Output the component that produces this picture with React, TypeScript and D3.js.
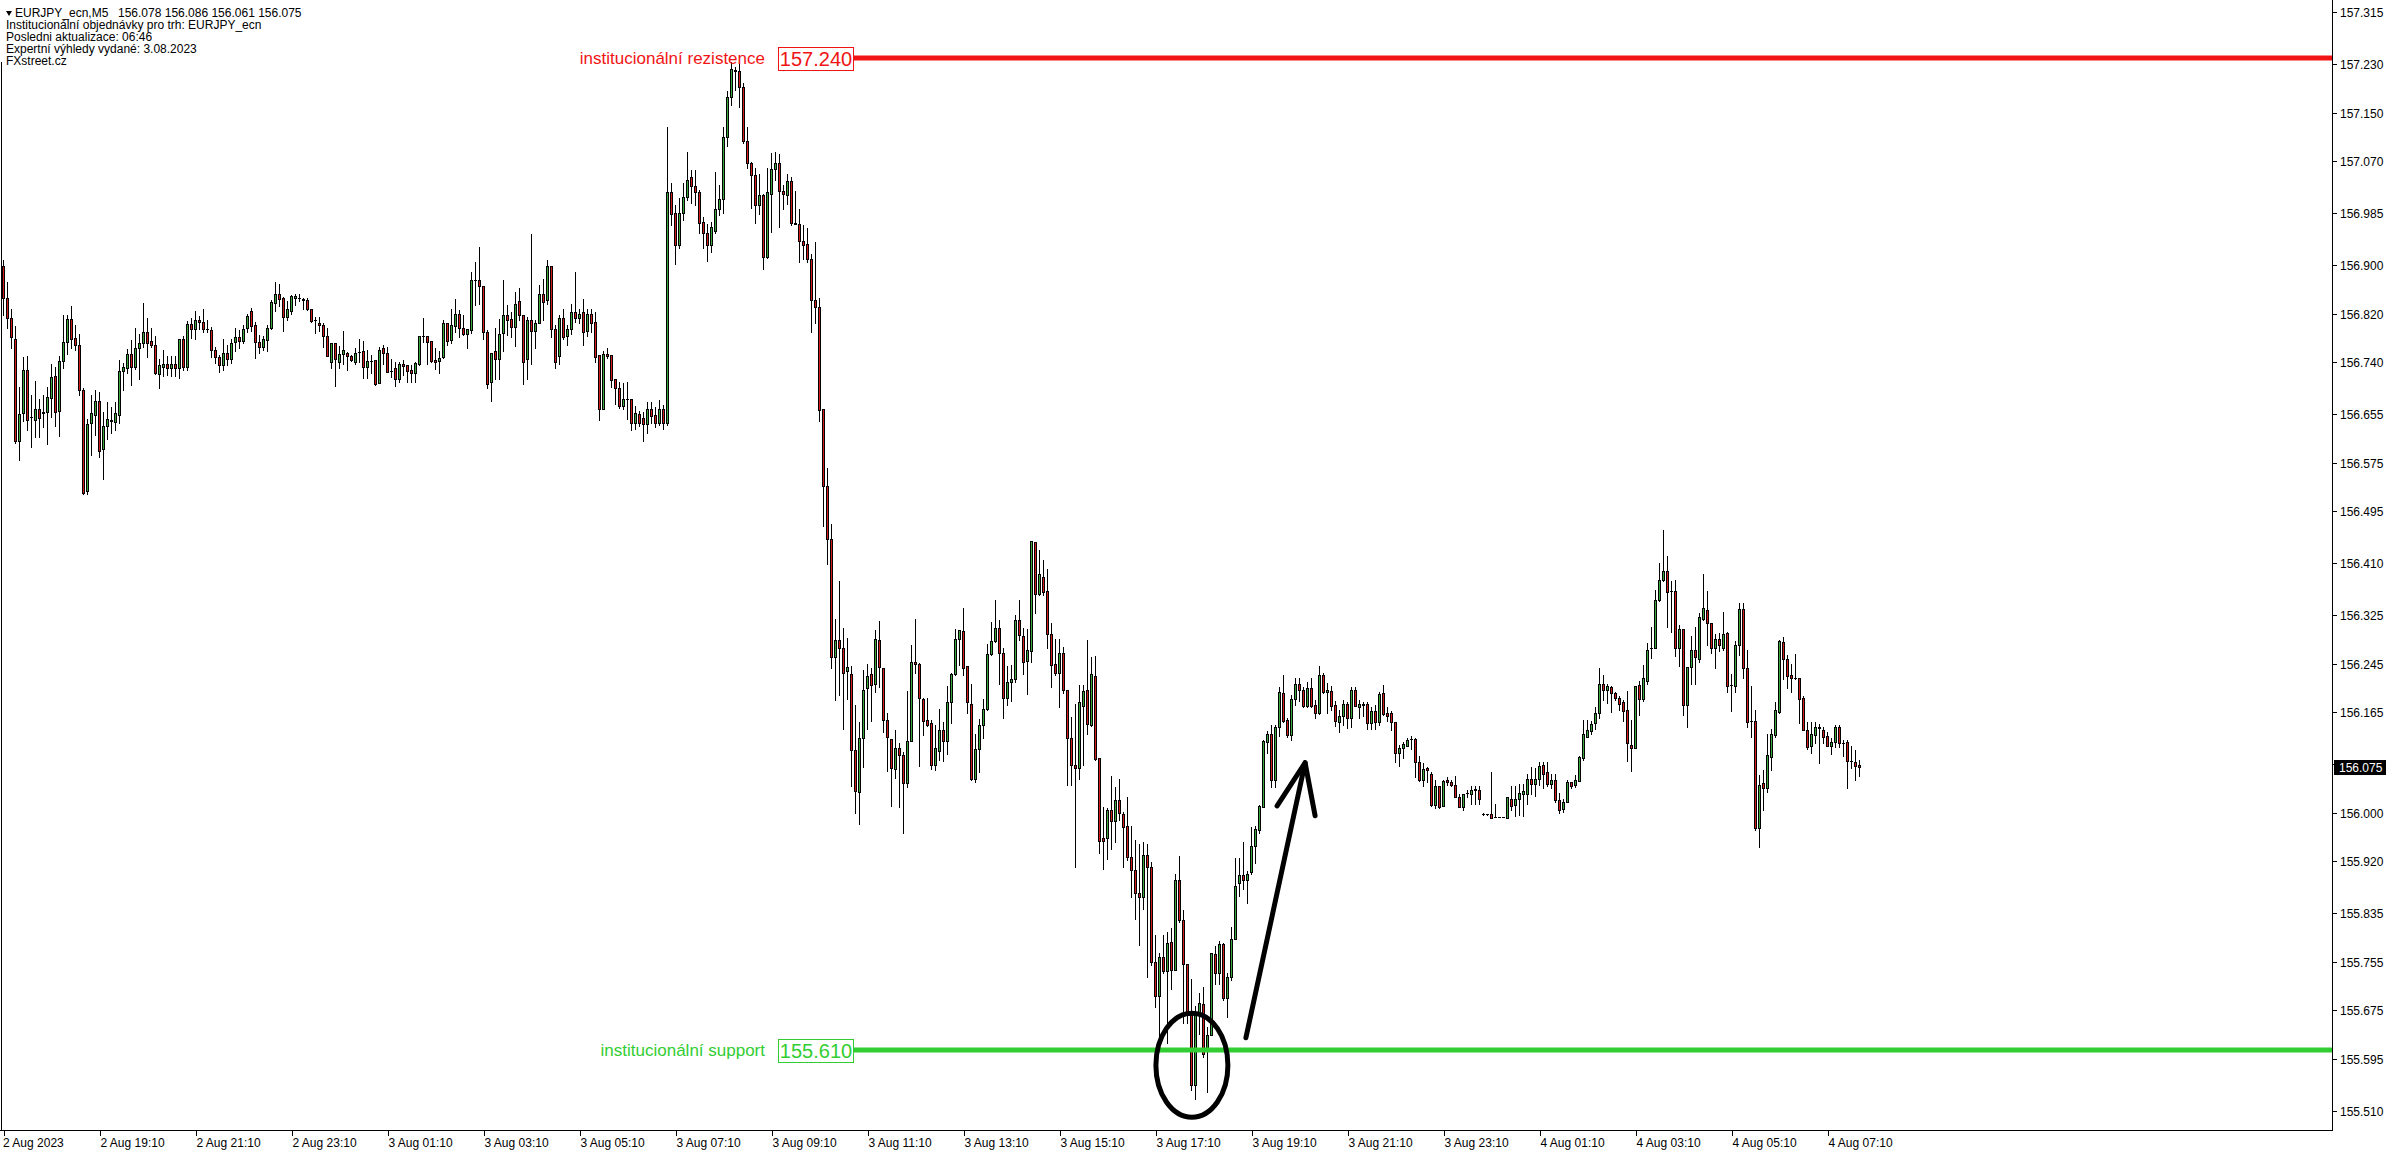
import React from "react";
import * as d3 from "d3";

// ---- OHLC data (EURJPY M5), one entry per 5-minute bar, oldest first ----
const openP = [
156.898,156.846,156.813,156.779,156.610,156.657,156.728,156.650,156.646,156.664,
156.657,156.658,156.682,156.717,156.660,156.742,156.774,156.811,156.780,156.769,
156.694,156.528,156.640,156.654,156.676,156.597,156.635,156.643,156.642,156.654,
156.725,156.731,156.754,156.732,156.764,156.772,156.790,156.775,156.769,156.721,
156.732,156.738,156.731,156.738,156.731,156.779,156.732,156.803,156.794,156.810,
156.807,156.794,156.793,156.760,156.749,156.736,156.755,156.746,156.773,156.782,
156.775,156.796,156.824,156.802,156.774,156.765,156.777,156.797,156.838,156.852,
156.846,156.815,156.824,156.846,156.846,156.844,156.843,156.827,156.809,156.805,
156.802,156.783,156.741,156.771,156.741,156.754,156.756,156.750,156.741,156.757,
156.758,156.732,156.742,156.743,156.706,156.764,156.756,156.725,156.730,156.713,
156.738,156.736,156.727,156.723,156.737,156.783,156.784,156.775,156.744,156.742,
156.748,156.805,156.777,156.800,156.820,156.797,156.786,156.793,156.876,156.876,
156.866,156.789,156.708,156.758,156.745,156.788,156.817,156.811,156.798,156.840,
156.818,156.745,156.809,156.792,156.805,156.853,156.842,156.898,156.795,156.751,
156.813,156.784,156.795,156.823,156.812,156.823,156.791,156.820,156.807,156.752,
156.664,156.754,156.752,156.713,156.697,156.668,156.679,156.679,156.641,156.655,
156.649,156.639,156.664,156.653,156.641,156.664,156.641,157.019,156.985,156.933,
156.985,157.011,157.044,157.030,157.019,156.971,156.952,156.933,156.956,156.992,
157.009,157.111,157.176,157.220,157.219,157.193,157.103,157.067,157.048,156.998,
157.015,156.913,157.017,157.057,157.067,157.021,157.015,157.038,156.969,156.968,
156.939,156.935,156.910,156.843,156.831,156.663,156.537,156.449,156.255,156.283,
156.271,156.232,156.228,156.103,156.034,156.122,156.204,156.228,156.211,156.283,
156.237,156.153,156.121,156.071,156.107,156.095,156.048,156.118,156.248,156.245,
156.186,156.152,156.147,156.079,156.102,156.136,156.118,156.181,156.228,156.285,
156.298,156.241,156.179,156.056,156.104,156.144,156.170,156.260,156.282,156.304,
156.262,156.188,156.214,156.219,156.316,156.290,156.249,156.266,156.445,156.359,
156.388,156.364,156.293,156.245,156.230,156.263,156.202,156.122,156.079,156.074,
156.176,156.201,156.144,156.224,156.090,155.959,155.958,156.004,155.987,156.021,
155.998,155.978,155.927,155.906,155.868,155.862,155.931,155.911,155.754,155.699,
155.762,155.739,155.788,155.742,155.889,155.823,155.752,155.667,155.553,155.668,
155.686,155.610,155.634,155.767,155.737,155.784,155.696,155.730,155.793,155.885,
155.898,155.889,155.902,155.946,155.971,156.010,156.116,156.130,156.053,156.140,
156.197,156.153,156.127,156.186,156.212,156.202,156.176,156.204,156.177,156.163,
156.226,156.198,156.200,156.177,156.149,156.158,156.178,156.155,156.202,156.174,
156.179,156.179,156.147,156.167,156.149,156.196,156.163,156.163,156.149,156.098,
156.107,156.110,156.121,156.121,156.083,156.053,156.073,156.064,156.013,156.044,
156.011,156.053,156.051,156.046,156.026,156.010,156.032,156.030,156.038,156.038,
155.998,155.997,155.997,155.993,155.993,155.993,155.992,156.023,156.012,156.022,
156.030,156.031,156.055,156.047,156.056,156.078,156.066,156.047,156.053,156.021,
156.006,156.018,156.050,156.046,156.052,156.090,156.125,156.134,156.147,156.163,
156.212,156.201,156.207,156.197,156.189,156.181,156.168,156.111,156.106,156.210,
156.186,156.217,156.271,156.271,156.350,156.382,156.397,156.364,156.364,156.271,
156.301,156.177,156.240,156.268,156.253,156.318,156.333,156.312,156.271,156.285,
156.271,156.295,156.209,156.208,156.276,156.334,156.237,156.151,156.151,155.975,
156.048,156.041,156.092,156.127,156.166,156.281,156.252,156.226,156.222,156.222,
156.189,156.135,156.110,156.128,156.140,156.136,156.126,156.110,156.116,156.141,
156.115,156.116,156.085,156.084,156.078];

const highP = [
156.908,156.872,156.828,156.799,156.700,156.748,156.750,156.687,156.710,156.680,
156.687,156.700,156.737,156.732,156.750,156.817,156.817,156.832,156.802,156.787,
156.697,156.647,156.686,156.694,156.691,156.658,156.675,156.666,156.675,156.744,
156.739,156.762,156.777,156.797,156.787,156.838,156.812,156.797,156.784,156.746,
156.761,156.751,156.750,156.751,156.779,156.784,156.808,156.812,156.825,156.816,
156.828,156.809,156.798,156.765,156.752,156.778,156.768,156.779,156.796,156.793,
156.802,156.819,156.830,156.806,156.785,156.784,156.802,156.842,156.872,156.868,
156.847,156.840,156.850,156.853,156.853,156.846,156.846,156.828,156.815,156.815,
156.805,156.797,156.771,156.772,156.766,156.791,156.757,156.752,156.764,156.778,
156.775,156.760,156.752,156.744,156.765,156.768,156.765,156.746,156.741,156.741,
156.743,156.736,156.735,156.741,156.784,156.812,156.784,156.775,156.763,156.758,
156.809,156.805,156.828,156.844,156.826,156.817,156.794,156.889,156.905,156.929,
156.866,156.793,156.756,156.796,156.811,156.875,156.834,156.823,156.855,156.862,
156.818,156.815,156.950,156.810,156.867,156.877,156.908,156.898,156.802,156.817,
156.828,156.802,156.835,156.888,156.828,156.844,156.827,156.827,156.822,156.752,
156.759,156.764,156.752,156.713,156.708,156.706,156.707,156.679,156.669,156.660,
156.659,156.674,156.674,156.666,156.678,156.670,157.127,157.035,156.999,157.010,
157.035,157.086,157.056,157.056,157.023,156.979,156.967,156.971,157.053,157.031,
157.127,157.186,157.233,157.226,157.232,157.199,157.126,157.069,157.060,157.050,
157.017,157.059,157.084,157.086,157.082,157.032,157.050,157.044,157.021,156.992,
156.965,156.960,156.918,156.938,156.846,156.663,156.567,156.474,156.319,156.380,
156.304,156.287,156.241,156.177,156.149,156.234,156.244,156.237,156.300,156.315,
156.237,156.164,156.121,156.136,156.114,156.100,156.200,156.276,156.318,156.246,
156.188,156.188,156.153,156.144,156.170,156.149,156.208,156.230,156.301,156.300,
156.337,156.241,156.212,156.130,156.154,156.186,156.277,156.314,156.349,156.316,
156.270,156.241,156.242,156.324,156.349,156.303,156.301,156.447,156.445,156.431,
156.415,156.401,156.312,156.286,156.286,156.273,156.202,156.157,156.179,156.209,
156.209,156.283,156.255,156.257,156.090,156.010,156.007,156.061,156.042,156.056,
156.001,156.026,155.978,155.955,155.949,155.952,155.949,155.919,155.799,155.769,
155.799,155.804,155.810,155.900,155.929,155.840,155.752,155.726,155.682,155.703,
155.714,155.648,155.769,155.781,155.789,155.785,155.736,155.812,155.926,155.926,
155.951,155.904,155.977,155.978,156.012,156.119,156.134,156.144,156.144,156.206,
156.226,156.155,156.193,156.221,156.221,156.207,156.215,156.221,156.185,156.241,
156.229,156.213,156.208,156.183,156.169,156.185,156.182,156.207,156.207,156.185,
156.182,156.182,156.174,156.177,156.199,156.210,156.174,156.167,156.149,156.111,
156.116,156.122,156.126,156.122,156.093,156.081,156.075,156.067,156.053,156.044,
156.053,156.059,156.053,156.060,156.031,156.031,156.037,156.044,156.043,156.043,
155.999,155.998,156.066,156.014,155.993,155.993,156.025,156.043,156.043,156.047,
156.047,156.063,156.075,156.073,156.083,156.084,156.083,156.064,156.064,156.032,
156.022,156.054,156.051,156.062,156.093,156.152,156.152,156.151,156.174,156.237,
156.227,156.212,156.208,156.199,156.191,156.185,156.200,156.152,156.208,156.217,
156.242,156.278,156.305,156.366,156.411,156.464,156.422,156.381,156.382,156.308,
156.301,156.240,156.290,156.305,156.328,156.392,156.364,156.312,156.294,156.296,
156.329,156.297,156.228,156.282,156.344,156.345,156.267,156.208,156.169,156.062,
156.070,156.129,156.138,156.181,156.283,156.288,156.259,156.245,156.260,156.222,
156.191,156.149,156.149,156.149,156.145,156.141,156.133,156.123,156.144,156.144,
156.119,156.120,156.110,156.103,156.086];

const lowP = [
156.817,156.797,156.764,156.607,156.580,156.643,156.628,156.601,156.617,156.618,
156.634,156.605,156.650,156.636,156.619,156.731,156.754,156.764,156.760,156.687,
156.523,156.524,156.587,156.620,156.585,156.548,156.614,156.624,156.629,156.641,
156.694,156.722,156.702,156.729,156.713,156.765,156.748,156.765,156.720,156.698,
156.717,156.719,156.717,156.717,156.715,156.727,156.727,156.780,156.779,156.794,
156.790,156.790,156.749,156.739,156.724,156.727,156.736,156.739,156.758,156.764,
156.772,156.790,156.791,156.747,156.755,156.760,156.759,156.795,156.824,156.833,
156.792,156.810,156.819,156.834,156.840,156.828,156.826,156.807,156.788,156.791,
156.765,156.750,156.731,156.701,156.731,156.738,156.727,156.742,156.737,156.741,
156.714,156.714,156.722,156.702,156.706,156.738,156.724,156.716,156.701,156.708,
156.719,156.708,156.708,156.708,156.735,156.774,156.738,156.741,156.729,156.723,
156.747,156.768,156.771,156.790,156.782,156.785,156.763,156.788,156.834,156.835,
156.779,156.698,156.677,156.713,156.712,156.758,156.785,156.782,156.767,156.809,
156.704,156.713,156.737,156.763,156.804,156.809,156.835,156.782,156.731,156.737,
156.779,156.768,156.786,156.806,156.804,156.768,156.783,156.790,156.741,156.646,
156.663,156.747,156.700,156.672,156.665,156.664,156.647,156.629,156.631,156.635,
156.610,156.624,156.641,156.633,156.637,156.631,156.637,156.965,156.902,156.927,
156.974,157.006,157.002,156.998,156.952,156.927,156.906,156.921,156.952,156.982,
156.985,157.095,157.163,157.188,157.159,157.101,157.059,156.994,156.969,156.984,
156.893,156.911,156.954,157.040,156.963,156.992,157.000,156.965,156.967,156.904,
156.910,156.904,156.790,156.804,156.643,156.471,156.409,156.238,156.185,156.194,
156.138,156.187,156.044,156.000,155.981,156.075,156.137,156.151,156.199,156.206,
156.133,156.069,156.011,156.057,156.009,155.967,156.042,156.117,156.230,156.076,
156.127,156.143,156.071,156.070,156.086,156.085,156.097,156.148,156.226,156.242,
156.226,156.163,156.053,156.051,156.067,156.122,156.169,156.259,156.280,156.211,
156.156,156.177,156.184,156.214,156.283,156.228,156.195,156.248,156.328,156.357,
156.357,156.271,156.207,156.226,156.174,156.196,156.045,156.045,155.910,156.056,
156.078,156.130,156.142,156.086,155.933,155.908,155.924,155.941,155.952,155.988,
155.910,155.922,155.862,155.826,155.782,155.841,155.730,155.749,155.681,155.629,
155.736,155.621,155.711,155.741,155.821,155.654,155.654,155.544,155.530,155.637,
155.598,155.541,155.634,155.718,155.718,155.692,155.665,155.725,155.792,155.863,
155.874,155.852,155.900,155.918,155.967,156.009,156.098,156.042,156.042,156.126,
156.149,156.124,156.120,156.177,156.184,156.174,156.174,156.174,156.156,156.162,
156.196,156.163,156.169,156.142,156.133,156.144,156.139,156.140,156.175,156.155,
156.158,156.138,156.138,156.138,156.144,156.160,156.151,156.136,156.084,156.077,
156.089,156.109,156.105,156.059,156.052,156.044,156.051,156.011,156.007,156.007,
156.011,156.045,156.043,156.025,156.010,156.005,156.026,156.015,156.015,156.015,
155.996,155.996,155.992,155.993,155.993,155.993,155.992,156.004,155.994,155.996,
155.994,156.014,156.030,156.028,156.045,156.041,156.043,156.040,156.018,156.000,
156.001,156.017,156.041,156.042,156.052,156.087,156.125,156.130,156.138,156.155,
156.185,156.180,156.166,156.185,156.168,156.151,156.085,156.069,156.106,156.161,
156.183,156.212,156.254,156.271,156.348,156.381,156.305,156.297,156.258,156.241,
156.160,156.140,156.212,156.211,156.248,156.316,156.275,156.263,156.238,156.266,
156.267,156.199,156.167,156.199,156.259,156.222,156.141,156.125,155.972,155.944,
156.004,156.034,156.070,156.125,156.164,156.220,156.205,156.199,156.219,156.148,
156.135,156.104,156.098,156.115,156.081,156.115,156.110,156.096,156.108,156.108,
156.093,156.040,156.074,156.053,156.061];

const closeP = [
156.845,156.812,156.782,156.610,156.655,156.728,156.646,156.650,156.664,156.649,
156.659,156.683,156.716,156.658,156.742,156.774,156.811,156.779,156.769,156.695,
156.526,156.639,156.657,156.676,156.595,156.636,156.647,156.645,156.656,156.725,
156.732,156.754,156.732,156.764,156.772,156.790,156.772,156.769,156.722,156.735,
156.738,156.731,156.738,156.731,156.779,156.732,156.803,156.794,156.810,156.806,
156.794,156.794,156.760,156.748,156.736,156.755,156.746,156.772,156.782,156.775,
156.794,156.816,156.800,156.773,156.765,156.778,156.797,156.839,156.852,156.844,
156.815,156.828,156.849,156.849,156.845,156.843,156.827,156.808,156.809,156.801,
156.783,156.750,156.771,156.746,156.754,156.760,156.750,156.743,156.756,156.757,
156.732,156.742,156.742,156.704,156.761,156.756,156.724,156.725,156.713,156.738,
156.734,156.726,156.723,156.739,156.783,156.783,156.774,156.742,156.741,156.747,
156.804,156.775,156.802,156.820,156.797,156.787,156.794,156.875,156.876,156.866,
156.789,156.705,156.756,156.746,156.787,156.817,156.810,156.798,156.835,156.818,
156.741,156.809,156.792,156.805,156.853,156.839,156.898,156.795,156.741,156.812,
156.782,156.795,156.822,156.812,156.820,156.790,156.819,156.805,156.748,156.664,
156.754,156.751,156.711,156.698,156.668,156.679,156.679,156.641,156.656,156.640,
156.639,156.664,156.652,156.641,156.663,156.641,157.019,156.984,156.933,156.985,
157.011,157.040,157.030,157.019,156.969,156.952,156.933,156.963,156.992,157.009,
157.111,157.176,157.222,157.219,157.193,157.103,157.067,157.048,156.998,157.015,
156.913,157.019,157.057,157.067,157.021,157.017,157.038,156.969,156.968,156.939,
156.933,156.910,156.842,156.831,156.662,156.537,156.449,156.255,156.283,156.271,
156.230,156.240,156.103,156.036,156.122,156.201,156.224,156.210,156.286,156.239,
156.153,156.125,156.074,156.107,156.094,156.048,156.118,156.248,156.244,156.188,
156.151,156.144,156.079,156.106,156.136,156.118,156.181,156.228,156.286,156.300,
156.238,156.182,156.056,156.104,156.144,156.170,156.260,156.282,156.304,156.263,
156.188,156.214,156.219,156.316,156.292,156.248,156.267,156.447,156.359,156.392,
156.363,156.294,156.243,156.230,156.263,156.202,156.122,156.079,156.074,156.181,
156.200,156.145,156.228,156.088,155.954,155.954,156.004,155.987,156.021,155.999,
155.977,155.927,155.906,155.868,155.862,155.931,155.911,155.754,155.699,155.762,
155.739,155.786,155.742,155.890,155.823,155.752,155.670,155.553,155.668,155.688,
155.604,155.635,155.769,155.737,155.784,155.696,155.730,155.793,155.880,155.898,
155.889,155.900,155.946,155.973,156.011,156.117,156.130,156.053,156.140,156.198,
156.151,156.127,156.186,156.212,156.202,156.176,156.204,156.176,156.163,156.226,
156.198,156.202,156.176,156.151,156.159,156.178,156.155,156.202,156.176,156.179,
156.177,156.147,156.167,156.149,156.195,156.162,156.159,156.149,156.098,156.107,
156.112,156.120,156.121,156.083,156.053,156.071,156.070,156.013,156.044,156.010,
156.052,156.051,156.046,156.026,156.010,156.030,156.033,156.038,156.039,156.022,
155.997,155.997,155.992,155.993,155.993,155.993,156.025,156.011,156.022,156.033,
156.035,156.056,156.047,156.056,156.076,156.064,156.047,156.053,156.020,156.005,
156.017,156.050,156.044,156.053,156.092,156.130,156.136,156.145,156.163,156.212,
156.202,156.208,156.196,156.189,156.179,156.167,156.114,156.106,156.208,156.186,
156.221,156.268,156.271,156.350,156.383,156.397,156.363,156.364,156.271,156.301,
156.177,156.239,156.268,156.255,156.321,156.336,156.312,156.270,156.286,156.276,
156.293,156.208,156.209,156.276,156.334,156.237,156.149,156.151,155.974,156.046,
156.041,156.095,156.129,156.169,156.282,156.252,156.225,156.222,156.221,156.186,
156.136,156.108,156.129,156.141,156.139,156.125,156.110,156.116,156.141,156.115,
156.115,156.085,156.085,156.077,156.075];

// ---- axes ----
const priceTicks = [157.315, 157.230, 157.150, 157.070, 156.985, 156.900, 156.820, 156.740,
  156.655, 156.575, 156.495, 156.410, 156.325, 156.245, 156.165, 156.080, 156.000,
  155.920, 155.835, 155.755, 155.675, 155.595, 155.510];
const timeTickIndex = [0, 24, 48, 72, 96, 120, 144, 168, 192, 216, 240, 264, 288, 312, 336, 360, 384, 408, 432, 456];
const timeTickLabel = ["2 Aug 2023", "2 Aug 19:10", "2 Aug 21:10", "2 Aug 23:10", "3 Aug 01:10",
  "3 Aug 03:10", "3 Aug 05:10", "3 Aug 07:10", "3 Aug 09:10", "3 Aug 11:10", "3 Aug 13:10",
  "3 Aug 15:10", "3 Aug 17:10", "3 Aug 19:10", "3 Aug 21:10", "3 Aug 23:10", "4 Aug 01:10",
  "4 Aug 03:10", "4 Aug 05:10", "4 Aug 07:10"];

const headerSymbol = "EURJPY_ecn,M5";
const headerQuote = "156.078 156.086 156.061 156.075";
const headerLines = [
  "Institucionální objednávky pro trh: EURJPY_ecn",
  "Posledni aktualizace: 06:46",
  "Expertní výhledy vydané: 3.08.2023",
  "FXstreet.cz",
];

const levelValues = [157.240, 155.610];
const levelNames = ["institucionální rezistence", "institucionální support"];
const levelColors = ["#f01414", "#32cd32"];
const lastPrice = 156.075;

// hand-drawn annotation (data space: bar index, price)
const ellipseCenter = [297.1, 155.585];
const ellipseRadius = [9, 0.0855];
const arrowShaft = [[310.6, 155.630], [325.4, 156.082]];
const arrowBarbs = [[318.4, 156.011], [325.4, 156.082], [327.9, 155.995]];

const BULL = "#3aa83a";
const BEAR = "#d21c1c";

export default function App() {
  const W = 2396, H = 1154;
  const plotRight = 2332, plotBottom = 1130;
  const x = d3.scaleLinear().domain([0, 464]).range([3.5, 1859.5]);
  const y = d3.scaleLinear().domain([155.610, 157.240]).range([1050, 58]);
  const fmt = d3.format(".3f");
  const axisFont = "'Liberation Sans', Arial, sans-serif";

  const candles = openP.map((o, i) => {
    const c = closeP[i], h = highP[i], l = lowP[i];
    const cx = x(i);
    const yH = Math.round(y(h)), yL = Math.round(y(l));
    const yTop = Math.round(y(Math.max(o, c))) + 0.5;
    const yBot = Math.round(y(Math.min(o, c))) + 0.5;
    const doji = yBot - yTop < 1;
    return (
      <g key={i}>
        <line x1={cx} x2={cx} y1={yH} y2={yL + 1} stroke="#000" strokeWidth={1} />
        {doji ? (
          <line x1={cx - 1.5} x2={cx + 1.5} y1={yTop} y2={yTop} stroke="#000" strokeWidth={1} />
        ) : (
          <rect x={cx - 1} y={yTop} width={2} height={yBot - yTop}
            fill={c > o ? BULL : BEAR} stroke="#000" strokeWidth={1} />
        )}
      </g>
    );
  });

  const ex = x(ellipseCenter[0]), ey = y(ellipseCenter[1]);
  const erx = x(ellipseRadius[0]) - x(0);
  const ery = y(155.610) - y(155.610 + ellipseRadius[1]);
  const lineGen = d3.line<number[]>().x((d) => x(d[0])).y((d) => y(d[1]));

  const boxLeft = 778, boxW = 75, boxH = 23, textRight = 765;

  return (
    <svg width={W} height={H} style={{ position: "absolute", left: 0, top: 0, background: "#fff" }}
      xmlns="http://www.w3.org/2000/svg">
      <rect x={0} y={0} width={W} height={H} fill="#fff" />

      {/* header */}
      <path d="M6,11 L12,11 L9,16 Z" fill="#000" />
      <text x={15} y={17} fontFamily={axisFont} fontSize={12} fill="#000">{headerSymbol}</text>
      <text x={118} y={17} fontFamily={axisFont} fontSize={12} fill="#000">{headerQuote}</text>
      {headerLines.map((t, i) => (
        <text key={i} x={6} y={29 + i * 12} fontFamily={axisFont} fontSize={12} fill="#000">{t}</text>
      ))}

      {/* left frame */}
      <line x1={1.5} x2={1.5} y1={62} y2={plotBottom} stroke="#000" strokeWidth={1} />

      {/* candles */}
      <g shapeRendering="crispEdges">{candles}</g>

      {/* institutional levels */}
      {levelValues.map((v, i) => {
        const ly = y(v);
        return (
          <g key={i}>
            <line x1={boxLeft + boxW} x2={plotRight} y1={ly} y2={ly} stroke={levelColors[i]} strokeWidth={5} />
            <text x={textRight} y={ly} textAnchor="end" dominantBaseline="central"
              fontFamily={axisFont} fontSize={17} fill={levelColors[i]}>{levelNames[i]}</text>
            <rect x={boxLeft + 0.5} y={Math.round(ly - boxH / 2) + 0.5} width={boxW} height={boxH}
              fill="#fff" stroke={levelColors[i]} strokeWidth={1} />
            <text x={boxLeft + boxW / 2 + 0.5} y={ly + 1} textAnchor="middle" dominantBaseline="central"
              fontFamily={axisFont} fontSize={20} fill={levelColors[i]}>{fmt(v)}</text>
          </g>
        );
      })}

      {/* annotation: ellipse + arrow */}
      <ellipse cx={ex} cy={ey} rx={erx} ry={ery} fill="none" stroke="#000" strokeWidth={5} />
      <path d={lineGen(arrowShaft as number[][]) || ""} fill="none" stroke="#000" strokeWidth={5} strokeLinecap="round" />
      <path d={lineGen(arrowBarbs as number[][]) || ""} fill="none" stroke="#000" strokeWidth={5}
        strokeLinecap="round" strokeLinejoin="round" />

      {/* right axis */}
      <line x1={plotRight + 0.5} x2={plotRight + 0.5} y1={0} y2={plotBottom + 1} stroke="#000" strokeWidth={1} />
      {priceTicks.map((v, i) => {
        const ty = Math.round(y(v)) + 0.5;
        return (
          <g key={i}>
            <line x1={plotRight} x2={plotRight + 5} y1={ty} y2={ty} stroke="#000" strokeWidth={1} />
            <text x={plotRight + 8} y={ty} dominantBaseline="central" fontFamily={axisFont}
              fontSize={12} fill="#000">{fmt(v)}</text>
          </g>
        );
      })}
      <rect x={plotRight + 2} y={Math.round(y(lastPrice)) - 7} width={52} height={15} fill="#000" />
      <text x={plotRight + 7} y={Math.round(y(lastPrice)) + 0.5} dominantBaseline="central" fontFamily={axisFont}
        fontSize={12} fill="#fff">{fmt(lastPrice)}</text>

      {/* bottom axis */}
      <line x1={0} x2={plotRight + 1} y1={plotBottom + 0.5} y2={plotBottom + 0.5} stroke="#000" strokeWidth={1} />
      {timeTickIndex.map((k, i) => {
        const tx = Math.round(x(k)) + 0.5;
        return (
          <g key={i}>
            <line x1={tx} x2={tx} y1={plotBottom} y2={plotBottom + 6} stroke="#000" strokeWidth={1} />
            <text x={i === 0 ? 3 : tx} y={plotBottom + 13} dominantBaseline="central" fontFamily={axisFont}
              fontSize={12} fill="#000">{timeTickLabel[i]}</text>
          </g>
        );
      })}
    </svg>
  );
}
